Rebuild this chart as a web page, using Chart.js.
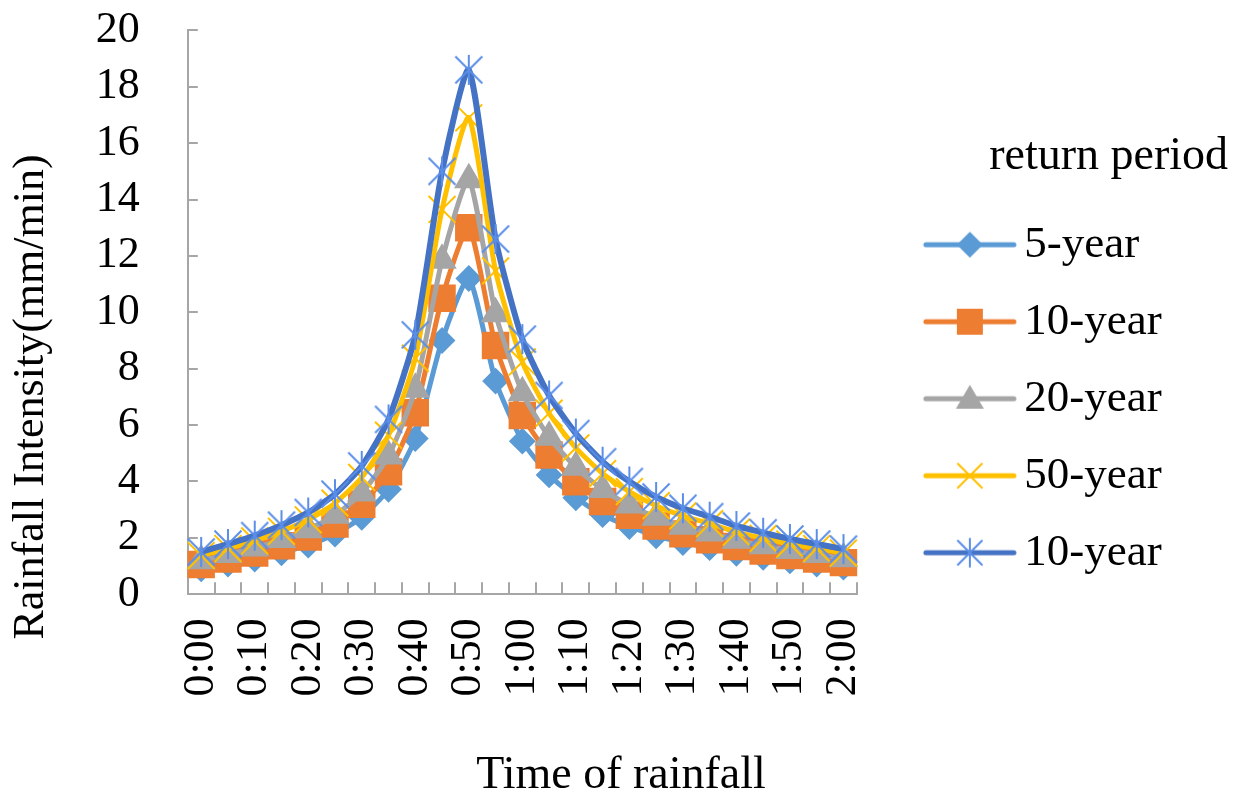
<!DOCTYPE html>
<html>
<head>
<meta charset="utf-8">
<script src="https://cdn.jsdelivr.net/npm/chart.js@4.4.1/dist/chart.umd.min.js"></script>
<style>
  html, body { margin: 0; padding: 0; background: #fff; }
</style>
</head>
<body>
<canvas id="rain" width="1242" height="794"></canvas>
<script>
// time steps, every 5 minutes; only every other one is labelled
const times = ['0:00','0:05','0:10','0:15','0:20','0:25','0:30','0:35','0:40','0:45','0:50','0:55',
               '1:00','1:05','1:10','1:15','1:20','1:25','1:30','1:35','1:40','1:45','1:50','1:55','2:00'];

// rainfall intensity (mm/min)
const year5   = [0.90,1.07,1.25,1.47,1.74,2.13,2.73,3.72,5.52,9.00,11.2,7.56,5.43,4.23,3.42,2.82,2.40,2.07,1.83,1.65,1.45,1.31,1.18,1.07,0.96];
const year10  = [1.05,1.25,1.46,1.72,2.03,2.49,3.19,4.34,6.44,10.5,13.0,8.82,6.34,4.94,3.99,3.29,2.80,2.42,2.14,1.93,1.69,1.53,1.37,1.25,1.12];
const year20  = [1.19,1.41,1.64,1.94,2.29,2.80,3.59,4.90,7.27,11.85,14.7,9.95,7.15,5.57,4.50,3.71,3.16,2.73,2.41,2.17,1.91,1.72,1.55,1.41,1.26];
const year50  = [1.37,1.62,1.89,2.23,2.64,3.23,4.14,5.64,8.37,13.65,16.9,11.47,8.24,6.42,5.19,4.28,3.64,3.14,2.78,2.50,2.20,1.98,1.78,1.62,1.46];
const year100 = [1.50,1.78,2.08,2.45,2.90,3.55,4.55,6.20,9.20,15.0,18.6,12.6,9.05,7.05,5.70,4.70,4.00,3.45,3.05,2.75,2.42,2.18,1.96,1.78,1.60];

// legend names as printed in the figure (last one really says 10-year)
const seriesNames = ['5-year', '10-year', '20-year', '50-year', '10-year'];

const axisColor = '#a6a6a6';
const serif = "'Times New Roman', 'Liberation Serif', serif";

// asterisk marker (X with a vertical bar)
function asterisk(color, r) {
  const c = document.createElement('canvas');
  c.width = c.height = 2 * r + 4;
  const g = c.getContext('2d');
  const m = r + 2, d = r * 0.9;
  g.strokeStyle = color;
  g.lineWidth = 2;
  g.beginPath();
  g.moveTo(m - d, m - d); g.lineTo(m + d, m + d);
  g.moveTo(m + d, m - d); g.lineTo(m - d, m + d);
  g.moveTo(m, m - r); g.lineTo(m, m + r);
  g.stroke();
  return c;
}

// legend sample: line with marker
function legendIcon(color, lineColor, marker) {
  const c = document.createElement('canvas');
  c.width = 120; c.height = 40;
  const g = c.getContext('2d');
  const cx = 70, cy = 20;
  g.strokeStyle = lineColor;
  g.lineWidth = 5;
  g.lineCap = 'round';
  g.beginPath(); g.moveTo(26, cy); g.lineTo(114, cy); g.stroke();
  g.fillStyle = color;
  g.strokeStyle = color;
  g.beginPath();
  if (marker === 'diamond') {
    g.moveTo(cx, cy - 13); g.lineTo(cx + 13, cy); g.lineTo(cx, cy + 13); g.lineTo(cx - 13, cy); g.closePath(); g.fill();
  } else if (marker === 'square') {
    g.rect(cx - 13, cy - 13, 26, 26); g.fill();
  } else if (marker === 'triangle') {
    g.moveTo(cx, cy - 14); g.lineTo(cx + 14, cy + 10); g.lineTo(cx - 14, cy + 10); g.closePath(); g.fill();
  } else if (marker === 'x') {
    g.lineWidth = 2;
    g.moveTo(cx - 12, cy - 12); g.lineTo(cx + 12, cy + 12);
    g.moveTo(cx + 12, cy - 12); g.lineTo(cx - 12, cy + 12); g.stroke();
  } else {
    g.lineWidth = 2;
    g.moveTo(cx - 12, cy - 12); g.lineTo(cx + 12, cy + 12);
    g.moveTo(cx + 12, cy - 12); g.lineTo(cx - 12, cy + 12);
    g.moveTo(cx, cy - 14); g.lineTo(cx, cy + 14); g.stroke();
  }
  return c;
}

const colors = ['#5B9BD5', '#ED7D31', '#A5A5A5', '#FFC000', '#4472C4'];
const icons = [
  legendIcon(colors[0], colors[0], 'diamond'),
  legendIcon(colors[1], colors[1], 'square'),
  legendIcon(colors[2], colors[2], 'triangle'),
  legendIcon(colors[3], colors[3], 'x'),
  legendIcon('#5b8ee8', colors[4], 'star')
];

function series(i, values, style, radius, width) {
  return {
    label: seriesNames[i],
    data: values,
    yAxisID: 'y',
    borderColor: colors[i],
    backgroundColor: colors[i],
    pointBackgroundColor: colors[i],
    pointBorderColor: colors[i],
    pointBorderWidth: 2,
    pointStyle: style,
    pointRadius: radius,
    borderWidth: width,
    tension: 0.2,
    order: 5 - i,
    fill: false
  };
}

Chart.defaults.font.family = serif;
Chart.defaults.color = '#000';

new Chart(document.getElementById('rain'), {
  type: 'line',
  data: {
    labels: times,
    datasets: [
      series(0, year5, 'rectRot', 12, 5),
      series(1, year10, 'rect', 18, 5),
      series(2, year20, 'triangle', 15, 5),
      series(3, year50, 'crossRot', 19, 5),
      series(4, year100, asterisk('#5b8ee8', 15), 15, 6)
    ]
  },
  options: {
    responsive: false,
    animation: false,
    devicePixelRatio: 1,
    layout: { padding: 0 },
    plugins: {
      tooltip: { enabled: false },
      title: {
        display: true,
        position: 'bottom',
        text: 'Time of rainfall',
        color: '#000',
        font: { size: 46, weight: 'normal', lineHeight: 0.8 },
        padding: 0
      },
      subtitle: {
        display: true,
        position: 'left',
        text: 'Rainfall Intensity(mm/min)',
        color: '#000',
        font: { size: 44, weight: 'normal' },
        padding: { top: 5, bottom: 0 }
      },
      legend: {
        position: 'right',
        align: 'start',
        maxWidth: 400,
        title: {
          display: true,
          text: 'return period',
          position: 'end',
          color: '#000',
          font: { size: 46 },
          padding: { top: 134, bottom: 1 }
        },
        labels: {
          usePointStyle: true,
          pointStyleWidth: 84,
          padding: 32,
          color: '#000',
          font: { size: 45 },
          sort: (a, b) => a.datasetIndex - b.datasetIndex,
          generateLabels(chart) {
            const items = Chart.defaults.plugins.legend.labels.generateLabels(chart);
            items.forEach(it => {
              it.pointStyle = icons[it.datasetIndex];
              it.text = seriesNames[it.datasetIndex] + '     ';
            });
            return items;
          }
        }
      }
    },
    scales: {
      x: {
        type: 'category',
        offset: true,
        grid: { offset: true, drawOnChartArea: false, tickLength: -12, color: axisColor, lineWidth: 2 },
        border: { color: axisColor, width: 2 },
        ticks: {
          autoSkip: false,
          minRotation: 90,
          maxRotation: 90,
          padding: 36,
          font: { size: 44 },
          color: '#000',
          callback(v, i) { return i % 2 === 0 ? this.getLabelForValue(v) : ''; }
        },
        afterFit(s) { s.height = 163; }
      },
      // inner tick marks of the value axis
      yIn: {
        type: 'linear', position: 'left', min: 0, max: 20,
        grid: { drawOnChartArea: false, tickLength: -10, color: axisColor, lineWidth: 2 },
        border: { display: false },
        ticks: { display: false, stepSize: 2 },
        afterFit(s) { s.width = 0; }
      },
      y: {
        type: 'linear', position: 'left', weight: 1,
        min: 0,
        max: 20,
        grid: { drawOnChartArea: false, tickLength: 44, tickColor: 'rgba(0,0,0,0)' },
        border: { color: axisColor, width: 2 },
        ticks: { stepSize: 2, autoSkip: false, padding: 4, font: { size: 44 }, color: '#000' },
        afterFit(s) { s.width = 130; }
      },
      // spacers that only reserve room beside the plot
      gap: {
        type: 'linear', axis: 'y', position: 'right', display: true,
        grid: { display: false }, ticks: { display: false }, border: { display: false },
        afterFit(s) { s.width = 29; }
      },
      edge: {
        type: 'linear', axis: 'y', position: 'right', display: true, weight: 2000,
        grid: { display: false }, ticks: { display: false }, border: { display: false },
        afterFit(s) { s.width = 14; }
      }
    }
  }
});
</script>
</body>
</html>
